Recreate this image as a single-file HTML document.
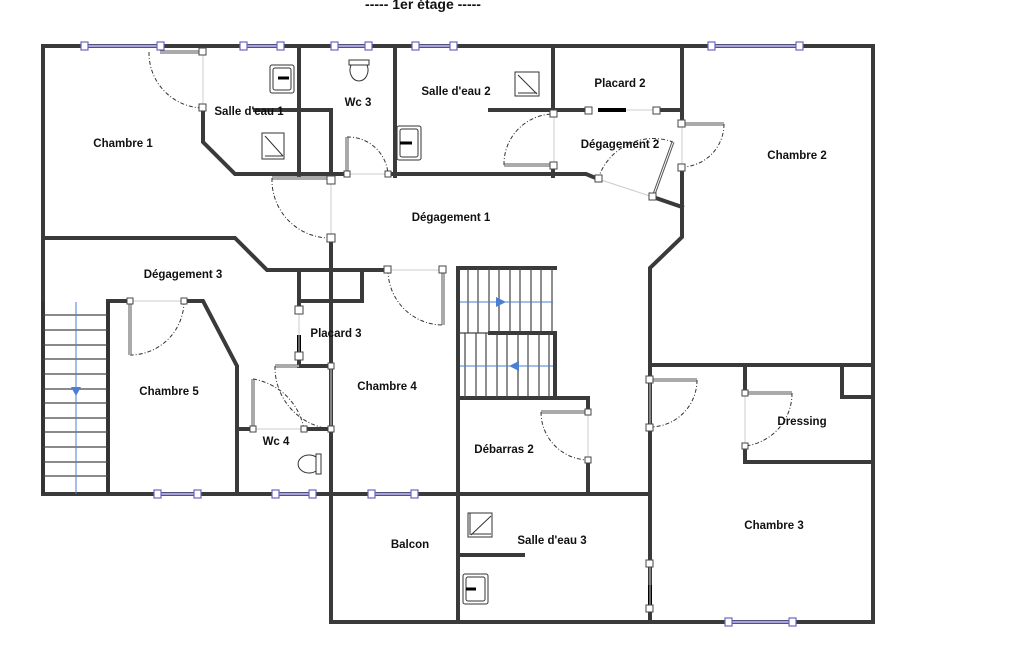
<!DOCTYPE html>
<html><head><meta charset="utf-8"><style>
html,body{margin:0;padding:0;background:#fff;}
svg{display:block;}
text{font-family:"Liberation Sans",sans-serif;font-weight:bold;font-size:11.5px;fill:#111;text-anchor:middle;}
.w{stroke:#3a3a3a;stroke-width:4;fill:none;stroke-linecap:square;stroke-linejoin:miter;}
.wi{stroke:#fff;stroke-width:1.2;fill:none;}
.t{stroke:#444;stroke-width:1.2;fill:none;}
.leaf{stroke:#555;stroke-width:3;fill:none;}
.leafi{stroke:#fff;stroke-width:1;fill:none;}
.arc{stroke:#333;stroke-width:1;fill:none;stroke-dasharray:4 2 1 2;}
.th{stroke:#ccc;stroke-width:1;fill:none;}
.p{fill:#fff;stroke:#444;stroke-width:1;}
.win{stroke:#6b66c0;stroke-width:3;fill:none;}
.wini{stroke:#e4e3f5;stroke-width:1;fill:none;}
.wp{fill:#fff;stroke:#6b66c0;stroke-width:1.2;}
.blue{stroke:#4a7fd4;stroke-width:1;fill:none;}
</style></head><body>
<svg width="1025" height="650" viewBox="0 0 1025 650" xmlns="http://www.w3.org/2000/svg">
<text x="423" y="9" style="font-size:14px">-----  1er étage  -----</text>

<g id="walls">
<path class="w" d="M43 46 H873 V622 H331 V494 H43 Z"/>
<path class="w" d="M299 46 V176 M395 46 V176 M553 46 V110 M682 46 V124"/>
<path class="w" d="M203 108 V142 L235 174 H331 M255 110 H331 V176 M331 174 H347 M388 174 H586 L598 179"/>
<path class="w" d="M490 110 H588 M657 110 H682 M553 166 V176"/>
<path class="w" d="M682 167 V237 L650 268 V622 M653 197 L682 207"/>
<path class="w" d="M650 365 H873 M745 365 V393 M745 446 V462 H873 M842 365 V397 H873"/>
<path class="w" d="M43 238 H235 L267 270 H388"/>
<path class="w" d="M331 176 V182 M331 238 V494"/>
<path class="w" d="M299 270 V310 M299 301 H362 V270 M299 356 V366 H331"/>
<path class="w" d="M108 301 V494 M108 301 H130 M184 301 H203 L237 366 V494 M237 429 H254 M304 429 H331"/>
<path class="w" d="M458 268 V622 M458 268 H555 M490 333 H555 V398 M458 398 H588 V412 M588 460 V494 M331 494 H650 M458 555 H523"/>
<path class="w" d="M650 380 V380"/>
</g>
<!-- black thick bits -->
<path stroke="#000" stroke-width="4" d="M598 110 H626 M299 335 V355 M650 585 V605"/>
<!-- thresholds -->
<path class="th" d="M203 52 V108 M331 182 V238 M347 174 H388 M554 114 V166 M598 179 L653 197 M682 124 V167 M626 110 H657 M388 270 H443 M650 380 V427 M745 393 V446 M588 412 V460 M331 366 V429 M254 429 H304 M130 301 H184 M299 310 V356 M650 563 V608"/>

<!-- stairs left -->
<g class="t">
<path d="M43 301 V494 M108 301 V494" stroke="#333" stroke-width="3"/>
<path d="M43 315 H108 M43 330 H108 M43 345 H108 M43 359 H108 M43 374 H108 M43 389 H108 M43 403 H108 M43 418 H108 M43 432 H108 M43 447 H108 M43 462 H108 M43 476 H108"/>
</g>
<path class="blue" d="M76 302 V494"/><path d="M71 387 H81 L76 396 Z" fill="#4a7fd4"/>
<!-- stairs centre -->
<g class="t">
<path d="M468 268 V333 M478 268 V333 M489 268 V333 M499 268 V333 M510 268 V333 M520 268 V333 M531 268 V333 M541 268 V333 M552 268 V333"/>
<path d="M458 333 H490 M465 333 V398 M476 333 V398 M486 333 V398 M497 333 V398 M507 333 V398 M518 333 V398 M528 333 V398 M539 333 V398 M549 333 V398"/>
</g>
<path class="blue" d="M460 302 H553 M460 366 H553"/>
<path d="M496 297 L506 302 L496 307 Z M519 361 L509 366 L519 371 Z" fill="#4a7fd4"/>

<!-- door leaves -->
<g>
<path class="leaf" d="M160 52 H203 M272 178 H331 M347 137 V174 M504 165 H554 M653 197 L673 142 M682 124 H724 M443 270 V325 M650 380 H697 M745 393 H792 M588 412 H541 M299 366 H275 M253 379 V429"/>
<path class="leafi" d="M160 52 H203 M272 178 H331 M347 137 V174 M504 165 H554 M653 197 L673 142 M682 124 H724 M443 270 V325 M650 380 H697 M745 393 H792 M588 412 H541 M299 366 H275 M253 379 V429"/>
</g>
<!-- arcs -->
<g class="arc">
<path d="M149 52 A55 55 0 0 0 203 108"/>
<path d="M272 178 A58 58 0 0 0 331 238"/>
<path d="M347 137 A40 40 0 0 1 388 174"/>
<path d="M504 165 A50 50 0 0 1 554 114"/>
<path d="M598 179 A58 58 0 0 1 673 142"/>
<path d="M724 124 A43 43 0 0 1 682 167"/>
<path d="M388 270 A55 55 0 0 0 443 325"/>
<path d="M697 380 A47 47 0 0 1 650 427"/>
<path d="M792 393 A53 53 0 0 1 745 446"/>
<path d="M541 412 A48 48 0 0 0 588 460"/>
<path d="M184 301 A54 54 0 0 1 130 355"/>
<path d="M275 366 A62 62 0 0 0 331 429"/>
<path d="M253 379 A62 62 0 0 1 304 429"/>
</g>
<path class="leaf" d="M130 301 V355"/><path class="leafi" d="M130 301 V355"/>

<!-- posts -->
<g class="p">
<rect x="199" y="48" width="7" height="7"/><rect x="199" y="104" width="7" height="7"/>
<rect x="327" y="176" width="8" height="8"/><rect x="327" y="234" width="8" height="8"/>
<rect x="344" y="171" width="6" height="6"/><rect x="385" y="171" width="6" height="6"/>
<rect x="550" y="110" width="7" height="7"/><rect x="550" y="162" width="7" height="7"/>
<rect x="585" y="107" width="7" height="7"/><rect x="653" y="107" width="7" height="7"/>
<rect x="595" y="175" width="7" height="7"/><rect x="649" y="193" width="7" height="7"/>
<rect x="678" y="120" width="7" height="7"/><rect x="678" y="164" width="7" height="7"/>
<rect x="384" y="266" width="7" height="7"/><rect x="439" y="266" width="7" height="7"/>
<rect x="295" y="306" width="8" height="8"/><rect x="295" y="352" width="8" height="8"/>
<rect x="328" y="363" width="6" height="6"/><rect x="328" y="426" width="6" height="6"/>
<rect x="250" y="426" width="6" height="6"/><rect x="301" y="426" width="6" height="6"/>
<rect x="127" y="298" width="6" height="6"/><rect x="181" y="298" width="6" height="6"/>
<rect x="646" y="376" width="7" height="7"/><rect x="646" y="424" width="7" height="7"/>
<rect x="742" y="390" width="6" height="6"/><rect x="742" y="443" width="6" height="6"/>
<rect x="585" y="409" width="6" height="6"/><rect x="585" y="457" width="6" height="6"/>
<rect x="646" y="560" width="7" height="7"/><rect x="646" y="605" width="7" height="7"/>
</g>

<!-- windows -->
<g>
<path class="win" d="M85 46 H160 M243 46 H280 M334 46 H368 M415 46 H453 M711 46 H800 M157 494 H197 M275 494 H312 M371 494 H414 M728 622 H792"/>
<path class="wini" d="M85 46 H160 M243 46 H280 M334 46 H368 M415 46 H453 M711 46 H800 M157 494 H197 M275 494 H312 M371 494 H414 M728 622 H792"/>
<g class="wp">
<rect x="81" y="42" width="7" height="8"/><rect x="157" y="42" width="7" height="8"/>
<rect x="240" y="42" width="7" height="8"/><rect x="277" y="42" width="7" height="8"/>
<rect x="331" y="42" width="7" height="8"/><rect x="365" y="42" width="7" height="8"/>
<rect x="412" y="42" width="7" height="8"/><rect x="450" y="42" width="7" height="8"/>
<rect x="708" y="42" width="7" height="8"/><rect x="796" y="42" width="7" height="8"/>
<rect x="154" y="490" width="7" height="8"/><rect x="194" y="490" width="7" height="8"/>
<rect x="272" y="490" width="7" height="8"/><rect x="309" y="490" width="7" height="8"/>
<rect x="368" y="490" width="7" height="8"/><rect x="411" y="490" width="7" height="8"/>
<rect x="725" y="618" width="7" height="8"/><rect x="789" y="618" width="7" height="8"/>
</g></g>

<!-- fixtures -->
<g fill="none" stroke="#333" stroke-width="1">
<rect x="270" y="65" width="24" height="28" rx="2"/><rect x="273" y="68" width="18" height="22" rx="2"/>
<rect x="397" y="126" width="24" height="34" rx="2"/><rect x="400" y="129" width="18" height="28" rx="2"/>
<rect x="463" y="574" width="25" height="30" rx="2"/><rect x="466" y="577" width="19" height="24" rx="2"/>
<rect x="262" y="133" width="22" height="26"/><path d="M265 136 L283 156 M265 156 H283"/>
<rect x="515" y="72" width="24" height="24"/><path d="M518 75 L537 94 M518 93 H537"/>
<rect x="468" y="513" width="24" height="24"/><path d="M471 535 L491 516 M471 534 H491 M470 513 V535"/>
<path d="M349 60 h20 v5 h-20z M351 65 a9 11 0 1 0 16 0"/>
<path d="M321 454 v20 h-5 v-20z M316 457 a11 9 0 1 0 0 14"/>
</g>
<path stroke="#000" stroke-width="3" d="M278 78 H289 M400 143 H412 M466 589 H476"/>

<!-- labels -->
<text x="123" y="147">Chambre 1</text>
<text x="249" y="115">Salle d'eau 1</text>
<text x="358" y="106">Wc 3</text>
<text x="456" y="95">Salle d'eau 2</text>
<text x="620" y="87">Placard 2</text>
<text x="620" y="148">Dégagement 2</text>
<text x="797" y="159">Chambre 2</text>
<text x="451" y="221">Dégagement 1</text>
<text x="183" y="278">Dégagement 3</text>
<text x="336" y="337">Placard 3</text>
<text x="169" y="395">Chambre 5</text>
<text x="387" y="390">Chambre 4</text>
<text x="276" y="445">Wc 4</text>
<text x="504" y="453">Débarras 2</text>
<text x="802" y="425">Dressing</text>
<text x="774" y="529">Chambre 3</text>
<text x="410" y="548">Balcon</text>
<text x="552" y="544">Salle d'eau 3</text>
</svg>
</body></html>
